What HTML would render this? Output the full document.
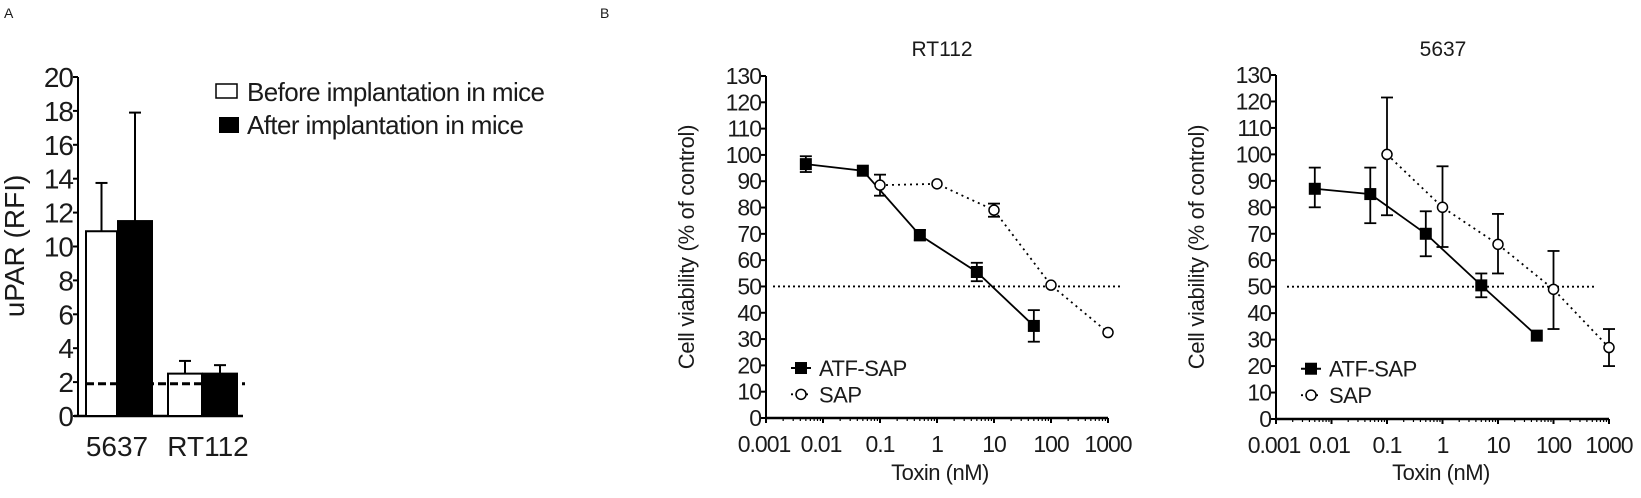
<!DOCTYPE html>
<html><head><meta charset="utf-8"><style>
html,body{margin:0;padding:0;background:#fff;}
svg{display:block;font-family:"Liberation Sans",Arial,sans-serif;}
</style></head><body>
<svg id="s" width="1641" height="498" viewBox="0 0 1641 498" xmlns="http://www.w3.org/2000/svg"></svg>
<script>
var s=document.getElementById('s'),h='';
function L(x1,y1,x2,y2,w,extra){h+='<line x1="'+x1+'" y1="'+y1+'" x2="'+x2+'" y2="'+y2+'" stroke="#000" stroke-width="'+(w||2)+'" '+(extra||'')+'/>';}
function T(x,y,t,sz,anc,extra){h+='<text x="'+x+'" y="'+y+'" font-size="'+sz+'" text-anchor="'+(anc||'start')+'" fill="#1a1a1a" '+(extra||'')+'>'+t+'</text>';}
// Panel A
T(4,18,'A',14);
var ax=78,y0=416,yt=77,k=(y0-yt)/20;
function YA(v){return y0-v*k;}
L(ax,yt,ax,y0,2);L(ax-4,y0,243,y0,2.5);
for(var v=0;v<=20;v+=2){L(ax-5,YA(v),ax,YA(v),2);T(ax-5,YA(v)+10,v,28,'end','letter-spacing="-1"');}
T(24,246,'uPAR (RFI)',28,'middle','transform="rotate(-90 24 246)"');
function bar(x1,x2,v,e,fill){h+='<rect x="'+x1+'" y="'+YA(v)+'" width="'+(x2-x1)+'" height="'+(y0-YA(v))+'" fill="'+fill+'" stroke="#000" stroke-width="2"/>';var cx=(x1+x2)/2;L(cx,YA(v),cx,YA(v+e),2);L(cx-6,YA(v+e),cx+6,YA(v+e),2);}
bar(86,117,10.9,2.85,'#fff');bar(118,152,11.5,6.4,'#000');bar(168,202,2.5,0.75,'#fff');bar(203,237,2.5,0.5,'#000');
L(86,YA(1.9),245,YA(1.9),3,'stroke="#888" stroke-dasharray="8,4"');
T(117,456,'5637',28,'middle');T(208,456,'RT112',28,'middle');
h+='<rect x="216" y="84" width="21" height="14" fill="#fff" stroke="#000" stroke-width="1.5"/>';
h+='<rect x="219" y="117" width="20" height="16" fill="#000"/>';
T(247,101,'Before implantation in mice',26,'start','letter-spacing="-0.6"');T(247,134,'After implantation in mice',26,'start','letter-spacing="-0.6"');
// Panel B
T(600,18,'B',14);
function panel(ax,y0,ytop,dec,title,cx,atf,sap,dl){
 var k=(y0-ytop)/130;
 function Y(v){return y0-v*k;}
 function X(c){return ax+(Math.log10(c)+3)*dec;}
 L(ax,ytop,ax,y0,2);L(ax,y0,ax+6*dec,y0,2.5);
 for(var v=0;v<=130;v+=10){L(ax-5,Y(v),ax,Y(v),2);T(ax-5,Y(v)+8,v,23,'end','letter-spacing="-1"');}
 var labs=['0.001','0.01','0.1','1','10','100','1000'];
 for(var i=0;i<7;i++){L(ax+i*dec,y0,ax+i*dec,y0+5,2);
  for(var m=2;m<10&&i<6;m++){var xx=ax+(i+Math.log10(m))*dec;L(xx,y0,xx,y0+3,1.2);}}
 T(ax-2,y0+34,'0.001',23,'middle','letter-spacing="-1"');
 for(var i=1;i<7;i++)T(ax+i*dec+(i==1?-2:0),y0+34,labs[i],23,'middle','letter-spacing="-1"');
 T(cx,56,title,21,'middle');
 T(cx-2,480,'Toxin (nM)',22,'middle','letter-spacing="-0.5"');
 var ylx=ax-72;T(ylx,247,'Cell viability (% of control)',22,'middle','letter-spacing="-0.3" transform="rotate(-90 '+ylx+' 247)"');
 L(dl[0],Y(50),dl[1],Y(50),1.8,'stroke-dasharray="2,3"');
 var p='';atf.forEach(function(d,i){p+=(i?'L':'M')+X(d[0])+' '+Y(d[1]);});
 h+='<path d="'+p+'" fill="none" stroke="#000" stroke-width="1.8"/>';
 p='';sap.forEach(function(d,i){p+=(i?'L':'M')+X(d[0])+' '+Y(d[1]);});
 h+='<path d="'+p+'" fill="none" stroke="#000" stroke-width="1.8" stroke-dasharray="2,4"/>';
 function eb(d){if(d[2]==null)return;var x=X(d[0]);L(x,Y(d[2]),x,Y(d[3]),1.8);L(x-6,Y(d[2]),x+6,Y(d[2]),1.8);L(x-6,Y(d[3]),x+6,Y(d[3]),1.8);}
 atf.forEach(function(d){eb(d);h+='<rect x="'+(X(d[0])-6)+'" y="'+(Y(d[1])-6)+'" width="12" height="12" fill="#000"/>';});
 sap.forEach(function(d){eb(d);h+='<circle cx="'+X(d[0])+'" cy="'+Y(d[1])+'" r="5" fill="#fff" stroke="#000" stroke-width="1.5"/>';});
 var lx=ax+25;L(lx,Y(19),lx+20,Y(19),2);h+='<rect x="'+(lx+4)+'" y="'+(Y(19)-6)+'" width="12" height="12" fill="#000"/>';
 L(lx,Y(9),lx+20,Y(9),1.8,'stroke-dasharray="2,3"');h+='<circle cx="'+(lx+10)+'" cy="'+Y(9)+'" r="5" fill="#fff" stroke="#000" stroke-width="1.5"/>';
 T(lx+28,Y(19)+8,'ATF-SAP',22,'start','letter-spacing="-0.5"');T(lx+28,Y(9)+8,'SAP',22,'start','letter-spacing="-0.5"');
}
panel(766,418,76,57,'RT112',942,
 [[0.005,96.5,93.5,99.5],[0.05,94,null],[0.5,69.5,67.5,71.5],[5,55.5,52,59],[50,35,29,41]],
 [[0.1,88.5,84.5,92.5],[1,89,null],[10,79,76.5,81.5],[100,50.5,null],[1000,32.5,null]],[773,1120]);
panel(1276,419,75,55.5,'5637',1443,
 [[0.005,87,80,95],[0.05,85,74,95],[0.5,70,61.5,78.5],[5,50.5,46,55],[50,31.5,null]],
 [[0.1,100,77,121.5],[1,80,65,95.5],[10,66,55,77.5],[100,49,34,63.5],[1000,27,20,34]],[1287,1597]);
s.innerHTML=h;
</script>
</body></html>
